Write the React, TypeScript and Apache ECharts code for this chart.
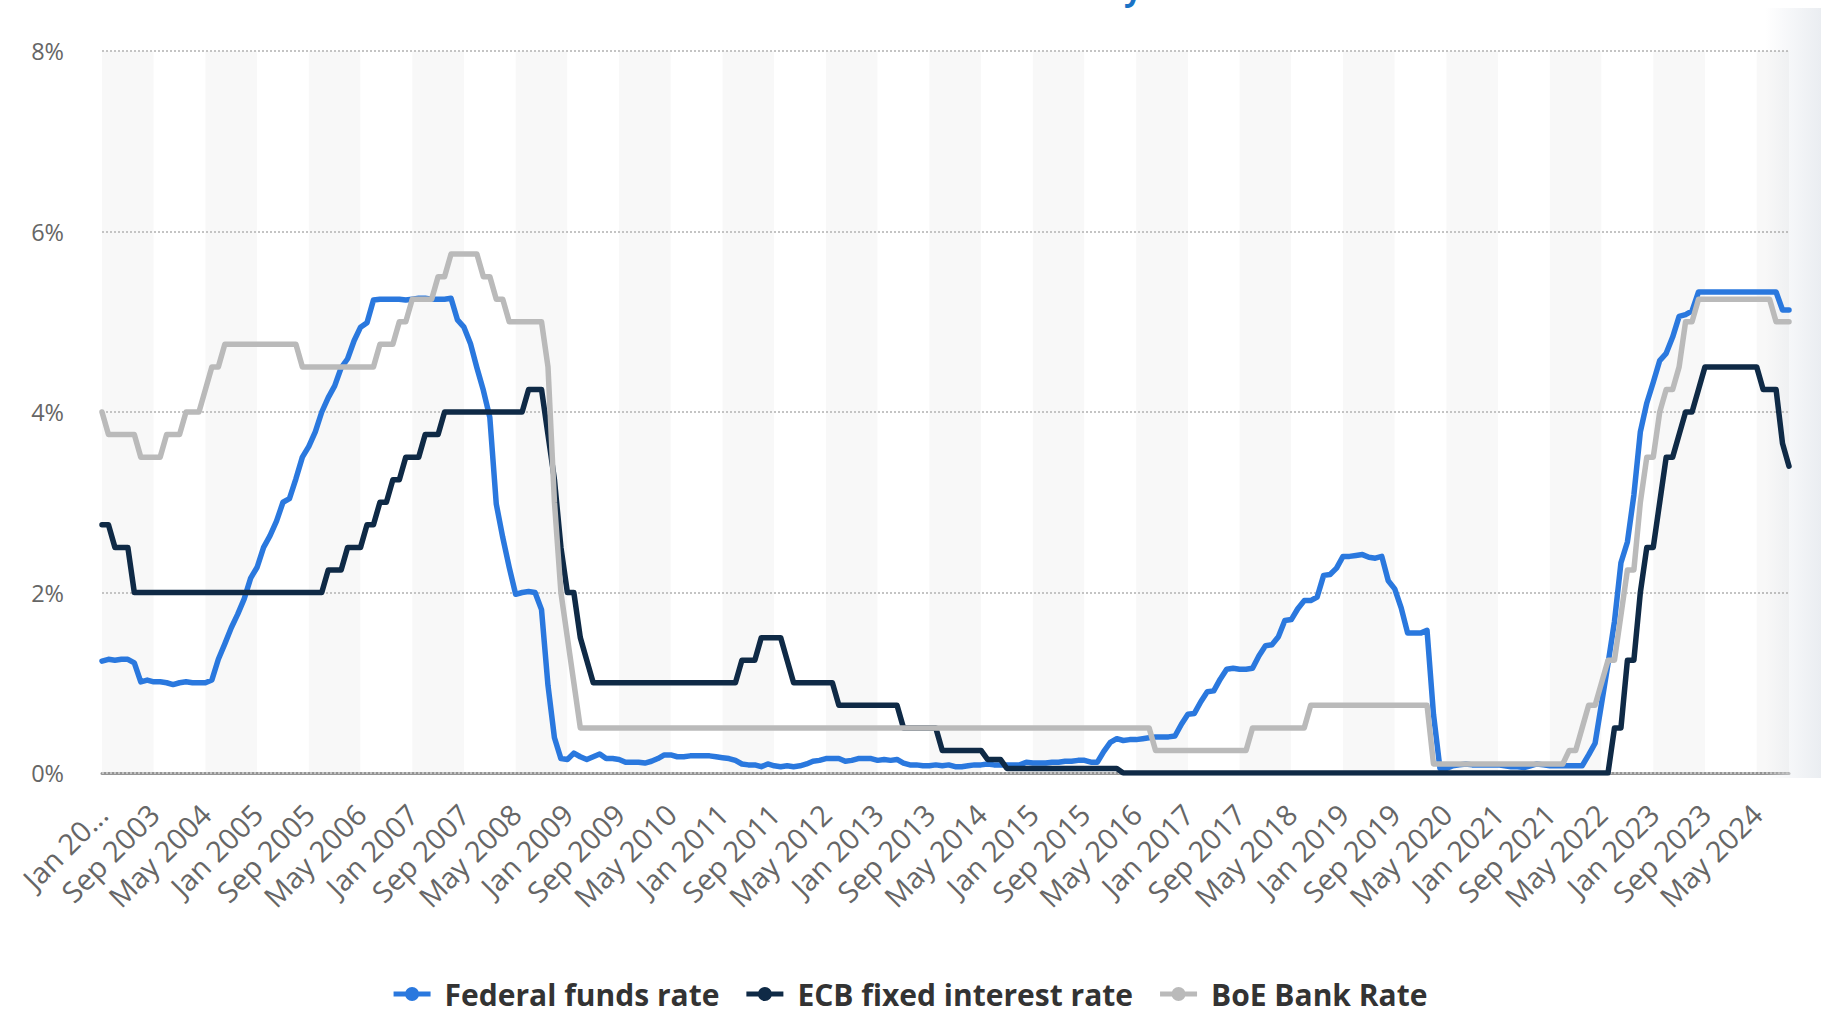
import React, { useEffect, useRef } from "react";
import * as echarts from "echarts";

const monthNames = ["Jan", "Feb", "Mar", "Apr", "May", "Jun", "Jul", "Aug", "Sep", "Oct", "Nov", "Dec"];
const firstYear = 2003;
const lastYear = 2024;
const lastMonthOfLastYear = 10; // data ends Oct 2024

const categories: string[] = [];
for (let y = firstYear; y <= lastYear; y++) {
  const mMax = y === lastYear ? lastMonthOfLastYear : 12;
  for (let m = 0; m < mMax; m++) categories.push(`${monthNames[m]} ${y}`);
}

const yTicks = [0, 2, 4, 6, 8];
// last (partial) background band, after the last labelled tick
const lastBand = ["May 2024", "Oct 2024"];

// Federal funds rate (%), monthly Jan 2003 – Oct 2024
const fedFunds = [
  1.24, 1.26, 1.25, 1.26, 1.26, 1.22, 1.01, 1.03, 1.01, 1.01, 1.0, 0.98,
  1.0, 1.01, 1.0, 1.0, 1.0, 1.03, 1.26, 1.43, 1.61, 1.76, 1.93, 2.16,
  2.28, 2.5, 2.63, 2.79, 3.0, 3.04, 3.26, 3.5, 3.62, 3.78, 4.0, 4.16,
  4.29, 4.49, 4.59, 4.79, 4.94, 4.99, 5.24, 5.25, 5.25, 5.25, 5.25, 5.24,
  5.25, 5.26, 5.26, 5.25, 5.25, 5.25, 5.26, 5.02, 4.94, 4.76, 4.49, 4.24,
  3.94, 2.98, 2.61, 2.28, 1.98, 2.0, 2.01, 2.0, 1.81, 0.97, 0.39, 0.16,
  0.15, 0.22, 0.18, 0.15, 0.18, 0.21, 0.16, 0.16, 0.15, 0.12, 0.12, 0.12,
  0.11, 0.13, 0.16, 0.2, 0.2, 0.18, 0.18, 0.19, 0.19, 0.19, 0.19, 0.18,
  0.17, 0.16, 0.14, 0.1, 0.09, 0.09, 0.07, 0.1, 0.08, 0.07, 0.08, 0.07,
  0.08, 0.1, 0.13, 0.14, 0.16, 0.16, 0.16, 0.13, 0.14, 0.16, 0.16, 0.16,
  0.14, 0.15, 0.14, 0.15, 0.11, 0.09, 0.09, 0.08, 0.08, 0.09, 0.08, 0.09,
  0.07, 0.07, 0.08, 0.09, 0.09, 0.1, 0.09, 0.09, 0.09, 0.09, 0.09, 0.12,
  0.11, 0.11, 0.11, 0.12, 0.12, 0.13, 0.13, 0.14, 0.14, 0.12, 0.12, 0.24,
  0.34, 0.38, 0.36, 0.37, 0.37, 0.38, 0.39, 0.4, 0.4, 0.4, 0.41, 0.54,
  0.65, 0.66, 0.79, 0.9, 0.91, 1.04, 1.15, 1.16, 1.15, 1.15, 1.16, 1.3,
  1.41, 1.42, 1.51, 1.69, 1.7, 1.82, 1.91, 1.91, 1.95, 2.19, 2.2, 2.27,
  2.4, 2.4, 2.41, 2.42, 2.39, 2.38, 2.4, 2.13, 2.04, 1.83, 1.55, 1.55,
  1.55, 1.58, 0.65, 0.05, 0.05, 0.08, 0.09, 0.1, 0.09, 0.09, 0.09, 0.09,
  0.09, 0.08, 0.07, 0.07, 0.06, 0.08, 0.1, 0.09, 0.08, 0.08, 0.08, 0.08,
  0.08, 0.08, 0.2, 0.33, 0.77, 1.21, 1.68, 2.33, 2.56, 3.08, 3.78, 4.1,
  4.33, 4.57, 4.65, 4.83, 5.06, 5.08, 5.12, 5.33, 5.33, 5.33, 5.33, 5.33,
  5.33, 5.33, 5.33, 5.33, 5.33, 5.33, 5.33, 5.33, 5.13, 5.13,
];

// ECB fixed interest rate (%), monthly Jan 2003 – Oct 2024
const ecbRate = [
  2.75, 2.75, 2.5, 2.5, 2.5, 2.0, 2.0, 2.0, 2.0, 2.0, 2.0, 2.0,
  2.0, 2.0, 2.0, 2.0, 2.0, 2.0, 2.0, 2.0, 2.0, 2.0, 2.0, 2.0,
  2.0, 2.0, 2.0, 2.0, 2.0, 2.0, 2.0, 2.0, 2.0, 2.0, 2.0, 2.25,
  2.25, 2.25, 2.5, 2.5, 2.5, 2.75, 2.75, 3.0, 3.0, 3.25, 3.25, 3.5,
  3.5, 3.5, 3.75, 3.75, 3.75, 4.0, 4.0, 4.0, 4.0, 4.0, 4.0, 4.0,
  4.0, 4.0, 4.0, 4.0, 4.0, 4.0, 4.25, 4.25, 4.25, 3.75, 3.25, 2.5,
  2.0, 2.0, 1.5, 1.25, 1.0, 1.0, 1.0, 1.0, 1.0, 1.0, 1.0, 1.0,
  1.0, 1.0, 1.0, 1.0, 1.0, 1.0, 1.0, 1.0, 1.0, 1.0, 1.0, 1.0,
  1.0, 1.0, 1.0, 1.25, 1.25, 1.25, 1.5, 1.5, 1.5, 1.5, 1.25, 1.0,
  1.0, 1.0, 1.0, 1.0, 1.0, 1.0, 0.75, 0.75, 0.75, 0.75, 0.75, 0.75,
  0.75, 0.75, 0.75, 0.75, 0.5, 0.5, 0.5, 0.5, 0.5, 0.5, 0.25, 0.25,
  0.25, 0.25, 0.25, 0.25, 0.25, 0.15, 0.15, 0.15, 0.05, 0.05, 0.05, 0.05,
  0.05, 0.05, 0.05, 0.05, 0.05, 0.05, 0.05, 0.05, 0.05, 0.05, 0.05, 0.05,
  0.05, 0.05, 0, 0, 0, 0, 0, 0, 0, 0, 0, 0,
  0, 0, 0, 0, 0, 0, 0, 0, 0, 0, 0, 0,
  0, 0, 0, 0, 0, 0, 0, 0, 0, 0, 0, 0,
  0, 0, 0, 0, 0, 0, 0, 0, 0, 0, 0, 0,
  0, 0, 0, 0, 0, 0, 0, 0, 0, 0, 0, 0,
  0, 0, 0, 0, 0, 0, 0, 0, 0, 0, 0, 0,
  0, 0, 0, 0, 0, 0, 0.5, 0.5, 1.25, 1.25, 2.0, 2.5,
  2.5, 3.0, 3.5, 3.5, 3.75, 4.0, 4.0, 4.25, 4.5, 4.5, 4.5, 4.5,
  4.5, 4.5, 4.5, 4.5, 4.5, 4.25, 4.25, 4.25, 3.65, 3.4,
];

// BoE Bank Rate (%), monthly Jan 2003 – Oct 2024
const boeRate = [
  4.0, 3.75, 3.75, 3.75, 3.75, 3.75, 3.5, 3.5, 3.5, 3.5, 3.75, 3.75,
  3.75, 4.0, 4.0, 4.0, 4.25, 4.5, 4.5, 4.75, 4.75, 4.75, 4.75, 4.75,
  4.75, 4.75, 4.75, 4.75, 4.75, 4.75, 4.75, 4.5, 4.5, 4.5, 4.5, 4.5,
  4.5, 4.5, 4.5, 4.5, 4.5, 4.5, 4.5, 4.75, 4.75, 4.75, 5.0, 5.0,
  5.25, 5.25, 5.25, 5.25, 5.5, 5.5, 5.75, 5.75, 5.75, 5.75, 5.75, 5.5,
  5.5, 5.25, 5.25, 5.0, 5.0, 5.0, 5.0, 5.0, 5.0, 4.5, 3.0, 2.0,
  1.5, 1.0, 0.5, 0.5, 0.5, 0.5, 0.5, 0.5, 0.5, 0.5, 0.5, 0.5,
  0.5, 0.5, 0.5, 0.5, 0.5, 0.5, 0.5, 0.5, 0.5, 0.5, 0.5, 0.5,
  0.5, 0.5, 0.5, 0.5, 0.5, 0.5, 0.5, 0.5, 0.5, 0.5, 0.5, 0.5,
  0.5, 0.5, 0.5, 0.5, 0.5, 0.5, 0.5, 0.5, 0.5, 0.5, 0.5, 0.5,
  0.5, 0.5, 0.5, 0.5, 0.5, 0.5, 0.5, 0.5, 0.5, 0.5, 0.5, 0.5,
  0.5, 0.5, 0.5, 0.5, 0.5, 0.5, 0.5, 0.5, 0.5, 0.5, 0.5, 0.5,
  0.5, 0.5, 0.5, 0.5, 0.5, 0.5, 0.5, 0.5, 0.5, 0.5, 0.5, 0.5,
  0.5, 0.5, 0.5, 0.5, 0.5, 0.5, 0.5, 0.25, 0.25, 0.25, 0.25, 0.25,
  0.25, 0.25, 0.25, 0.25, 0.25, 0.25, 0.25, 0.25, 0.25, 0.25, 0.5, 0.5,
  0.5, 0.5, 0.5, 0.5, 0.5, 0.5, 0.5, 0.75, 0.75, 0.75, 0.75, 0.75,
  0.75, 0.75, 0.75, 0.75, 0.75, 0.75, 0.75, 0.75, 0.75, 0.75, 0.75, 0.75,
  0.75, 0.75, 0.1, 0.1, 0.1, 0.1, 0.1, 0.1, 0.1, 0.1, 0.1, 0.1,
  0.1, 0.1, 0.1, 0.1, 0.1, 0.1, 0.1, 0.1, 0.1, 0.1, 0.1, 0.25,
  0.25, 0.5, 0.75, 0.75, 1.0, 1.25, 1.25, 1.75, 2.25, 2.25, 3.0, 3.5,
  3.5, 4.0, 4.25, 4.25, 4.5, 5.0, 5.0, 5.25, 5.25, 5.25, 5.25, 5.25,
  5.25, 5.25, 5.25, 5.25, 5.25, 5.25, 5.25, 5.0, 5.0, 5.0,
];

const seriesNames = ["Federal funds rate", "ECB fixed interest rate", "BoE Bank Rate"];
const seriesColors = ["#2a78de", "#0f2a46", "#bababa"];
// legend icon: thick line with a round marker in the middle (37 x 16 box)
const legendIcon =
  "path://M0 5.5 H37 V10.5 H0 Z M11.5 8 A7 7 0 1 1 25.5 8 A7 7 0 1 1 11.5 8 Z";

export default function App() {
  const ref = useRef<HTMLDivElement>(null);

  useEffect(() => {
    if (!ref.current) return;
    const chart = echarts.init(ref.current, undefined, { renderer: "svg" });
    const font = "'Open Sans', 'Noto Sans', sans-serif";
    const datasets = [fedFunds, ecbRate, boeRate];

    chart.setOption({
      animation: false,
      backgroundColor: "#ffffff",
      grid: { left: 102, right: 32, top: 51, bottom: 242 },
      legend: {
        bottom: 1,
        left: "center",
        itemWidth: 37,
        itemHeight: 16,
        itemGap: 27,
        data: seriesNames.map((name) => ({ name, icon: legendIcon })),
        textStyle: {
          fontSize: 30,
          fontWeight: "bold",
          color: "#333333",
          fontFamily: font,
          padding: [0, 0, 0, 9],
        },
      },
      xAxis: {
        type: "category",
        boundaryGap: false,
        data: categories,
        z: 0,
        axisLine: { show: true, lineStyle: { color: "#959595", width: 3 } },
        axisTick: { show: false },
        splitLine: { show: false },
        splitArea: {
          show: true,
          interval: 7,
          areaStyle: { color: ["#f8f8f8", "#ffffff"] },
        },
        axisLabel: {
          interval: 7,
          rotate: 45,
          color: "#666666",
          fontSize: 29,
          fontFamily: font,
          margin: 36,
          formatter: (v: string, i: number) => (i === 0 ? "Jan 20..." : v),
        },
      },
      yAxis: {
        type: "value",
        min: yTicks[0],
        max: yTicks[yTicks.length - 1],
        interval: 2,
        z: 1,
        axisLine: { show: false },
        axisTick: { show: false },
        axisLabel: {
          formatter: "{value}%",
          color: "#666666",
          fontSize: 23.5,
          fontFamily: font,
          margin: 38,
        },
        splitLine: { lineStyle: { type: [2, 2], color: "#c4c4c4", width: 2 } },
      },
      graphic: [
        {
          type: "rect",
          z: 1,
          silent: true,
          shape: { x: 1765, y: 8, width: 56, height: 770 },
          style: {
            fill: new echarts.graphic.LinearGradient(0, 0, 1, 0, [
              { offset: 0, color: "rgba(234,237,241,0)" },
              { offset: 1, color: "rgba(234,237,241,1)" },
            ]),
          },
        },
        {
          type: "text",
          left: 1124,
          top: -29,
          style: {
            text: "y",
            fill: "#1a73c6",
            font: `bold 32px ${font}`,
          },
        },
      ],
      series: seriesNames.map((name, k) => ({
        name,
        type: "line",
        data: datasets[k],
        symbol: "circle",
        symbolSize: 14,
        showSymbol: false,
        color: seriesColors[k],
        lineStyle: { width: 5.5, color: seriesColors[k], cap: "round", join: "round" },
        z: 2 + k,
        ...(k === 0
          ? {
              markArea: {
                silent: true,
                itemStyle: { color: "rgba(0,0,0,0.026)" },
                data: [[{ xAxis: lastBand[0] }, { xAxis: lastBand[1] }]],
              },
            }
          : {}),
      })),
    });

    return () => chart.dispose();
  }, []);

  return (
    <div
      ref={ref}
      style={{ position: "absolute", left: 0, top: 0, width: 1821, height: 1015 }}
    />
  );
}
